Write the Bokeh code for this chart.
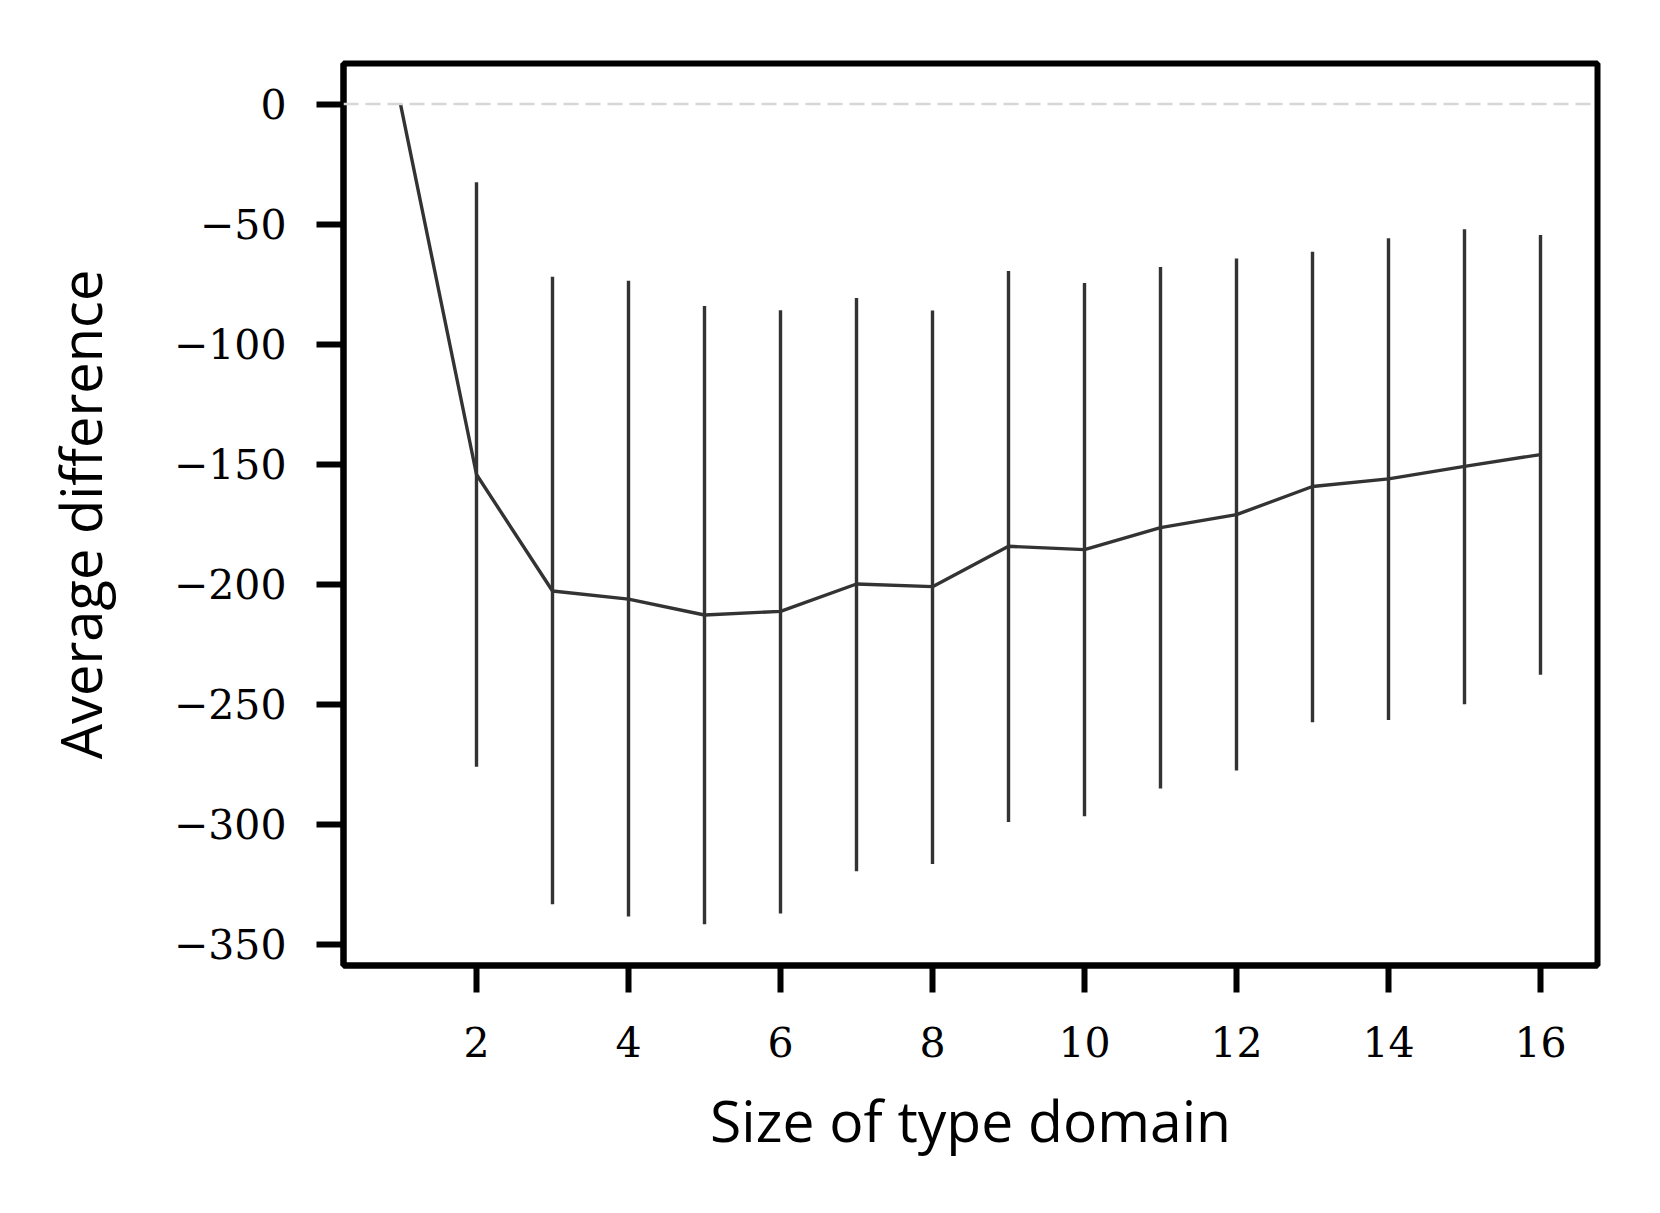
from bokeh.plotting import figure
from bokeh.models import Range1d, FixedTicker, Span
from bokeh.embed import file_html
from bokeh.resources import INLINE

# ---- data ----
sizes = [1, 2, 3, 4, 5, 6, 7, 8, 9, 10, 11, 12, 13, 14, 15, 16]
mean_diff = [0.0, -154.3, -202.8, -206.2, -212.8, -211.3, -199.9, -201.0,
             -184.2, -185.6, -176.4, -171.0, -159.3, -156.1, -150.9, -146.0]
err_sizes = [2, 3, 4, 5, 6, 7, 8, 9, 10, 11, 12, 13, 14, 15, 16]
err_upper = [-32.6, -71.9, -73.6, -84.1, -85.9, -80.8, -86.0, -69.5,
             -74.5, -67.9, -64.3, -61.5, -55.9, -52.1, -54.5]
err_lower = [-276.0, -333.3, -338.4, -341.6, -337.1, -319.5, -316.5, -299.0,
             -296.6, -285.1, -277.6, -257.5, -256.5, -250.0, -237.7]

x_ticks = [2, 4, 6, 8, 10, 12, 14, 16]
x_tick_labels = ["2", "4", "6", "8", "10", "12", "14", "16"]
y_ticks = [0, -50, -100, -150, -200, -250, -300, -350]
y_tick_labels = ["0", "\u221250", "\u2212100", "\u2212150", "\u2212200",
                 "\u2212250", "\u2212300", "\u2212350"]

x_label = "Size of type domain"
y_label = "Average difference"

# ---- figure ----
p = figure(width=1644, height=1195, output_backend="svg", toolbar_location=None,
           x_range=Range1d(0.25, 16.75), y_range=Range1d(-358.8, 16.9),
           min_border_left=343, min_border_right=47, min_border_top=63,
           min_border_bottom=230)
p.background_fill_color = "white"
p.border_fill_color = "white"
p.xgrid.visible = False
p.ygrid.visible = False
p.outline_line_color = "black"
p.outline_line_width = 6
p.outline_line_alpha = 1.0

# zero reference line
p.add_layout(Span(location=0, dimension="width", line_color="#d6d6d6",
                  line_width=2.6, line_dash="15 7"))

# error bars and mean line
p.segment(x0=err_sizes, y0=err_lower, x1=err_sizes, y1=err_upper,
          line_color="#333333", line_width=3.4)
p.line(sizes, mean_diff, line_color="#333333", line_width=3.4)

tick_font = "DejaVu Serif"
label_font = "Open Sans"

for ax, ticks, labels in ((p.xaxis[0], x_ticks, x_tick_labels),
                          (p.yaxis[0], y_ticks, y_tick_labels)):
    ax.ticker = FixedTicker(ticks=ticks)
    ax.major_label_overrides = {t: l for t, l in zip(ticks, labels)}
    ax.minor_tick_line_color = None
    ax.major_tick_in = 0
    ax.major_tick_out = 27
    ax.major_tick_line_width = 6
    ax.major_tick_line_color = "black"
    ax.axis_line_width = 6
    ax.axis_line_color = "black"
    ax.major_label_text_font = tick_font
    ax.major_label_text_font_size = "41px"
    ax.major_label_text_color = "black"
    ax.axis_label_text_font_style = "normal"
    ax.axis_label_text_font = label_font
    ax.axis_label_text_color = "black"

p.xaxis.axis_label_text_font_size = "57px"
p.yaxis.axis_label_text_font_size = "56px"
p.xaxis.major_label_standoff = 34
p.yaxis.major_label_standoff = 30
p.xaxis.axis_label = x_label
p.yaxis.axis_label = y_label
p.xaxis.axis_label_standoff = 21
p.yaxis.axis_label_standoff = 53

open("out.html", "w").write(file_html(p, INLINE))
